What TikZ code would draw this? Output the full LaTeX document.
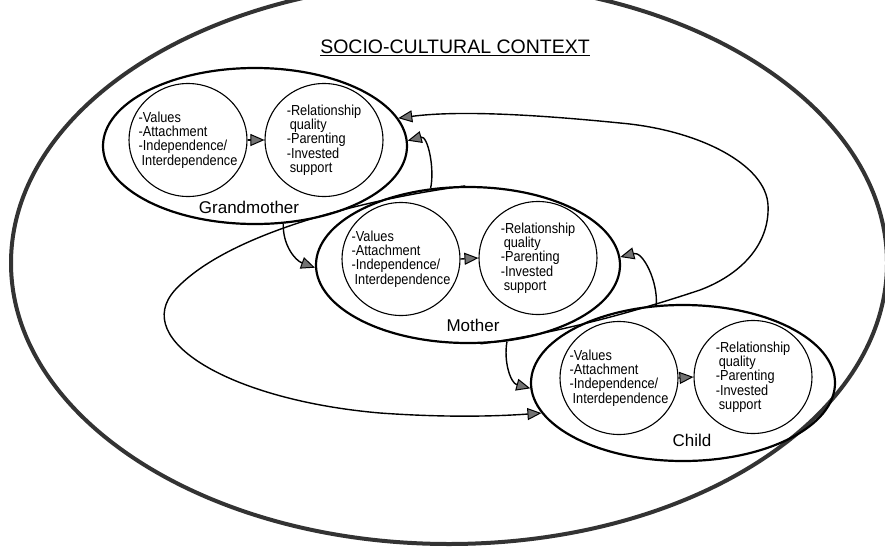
\documentclass[tikz,border=0pt]{standalone}
\usepackage{fontspec}
\setmainfont{Liberation Sans}
\newfontfamily\narrowsans[FakeStretch=0.88]{Liberation Sans}
\usetikzlibrary{shapes.geometric,arrows.meta}

\newcommand{\circtext}{\narrowsans\fontsize{14.5}{14.3}\selectfont}
\newcommand{\gentext}{\fontsize{17}{20}\selectfont}
\newcommand{\titletext}{\fontsize{19.5}{23}\selectfont}

\begin{document}
\begin{tikzpicture}[x=1pt, y=-1pt, node distance=67pt]
  \tikzstyle{context} = [ellipse, draw=black!80, line width=4pt, minimum width=876pt, minimum height=562pt]
  \tikzstyle{generation} = [ellipse, draw=black, line width=2.2pt, minimum width=304pt, minimum height=156pt]
  \tikzstyle{sphere} = [ellipse, draw=black, line width=1.1pt, minimum width=118pt, minimum height=113pt, inner xsep=-10pt, inner ysep=0pt, align=left, font=\circtext]
  \tikzstyle{genlabel} = [font=\gentext]
  \tikzstyle{arrow} = [line width=1.4pt, -{Triangle[length=14pt, width=12pt, fill=black!55, line width=1pt]}]

  \useasboundingbox (0,0) rectangle (885,549);
  \clip (0,0) rectangle (885,549);

  \node (context) [context] at (449,263) {};
  \node (title) [font=\titletext] at (455,48) {\underline{SOCIO-CULTURAL CONTEXT}};

  \node (gm) [generation] at (255,146) {};
  \node (gm-val) [sphere, left of=gm, yshift=6pt] {-Values\\-Attachment\\-Independence/\\\hspace*{3pt}Interdependence};
  \node (gm-rel) [sphere, right of=gm, xshift=2pt, yshift=6pt] {-Relationship\\\hspace*{3pt}quality\\-Parenting\\-Invested\\\hspace*{3pt}support};
  \node (gm-label) [genlabel, below of=gm, xshift=-6pt, yshift=6pt] {Grandmother};

  \node (mo) [generation] at (468,265) {};
  \node (mo-val) [sphere, left of=mo, yshift=6pt] {-Values\\-Attachment\\-Independence/\\\hspace*{3pt}Interdependence};
  \node (mo-rel) [sphere, right of=mo, xshift=3pt, yshift=7pt] {-Relationship\\\hspace*{3pt}quality\\-Parenting\\-Invested\\\hspace*{3pt}support};
  \node (mo-label) [genlabel, below of=mo, xshift=5pt, yshift=7pt] {Mother};

  \node (ch) [generation] at (683,383) {};
  \node (ch-val) [sphere, left of=ch, xshift=3pt, yshift=5pt] {-Values\\-Attachment\\-Independence/\\\hspace*{3pt}Interdependence};
  \node (ch-rel) [sphere, right of=ch, xshift=3pt, yshift=6pt] {-Relationship\\\hspace*{3pt}quality\\-Parenting\\-Invested\\\hspace*{3pt}support};
  \node (ch-label) [genlabel, below of=ch, xshift=9pt, yshift=10pt] {Child};

  \draw [arrow] (gm-val.east) -- (gm-rel.west);
  \draw [arrow] (mo-val.east) -- (mo-rel.west);
  \draw [arrow] (ch-val.east) -- (ch-rel.west);

  \draw [arrow] (gm.-70) to[out=-92, in=160] (mo.181);
  \draw [arrow] (mo.116) to[out=78, in=15] (gm.2);
  \draw [arrow] (mo.-63) to[out=-100, in=165] (ch.182);
  \draw [arrow] (ch.109) to[out=85, in=15] (mo.3);

  \draw [arrow] (mo.92) .. controls (380,197) and (230,230) .. (175,290)
    .. controls (130,340) and (230,400) .. (380,413)
    .. controls (450,418) and (500,416) .. (ch.192);
  \draw [arrow] (mo.-81) .. controls (560,333) and (640,310) .. (700,290)
    .. controls (740,275) and (770,245) .. (768,205)
    .. controls (766,165) and (700,130) .. (620,123)
    .. controls (540,115) and (460,110) .. (gm.11);
\end{tikzpicture}
\end{document}
